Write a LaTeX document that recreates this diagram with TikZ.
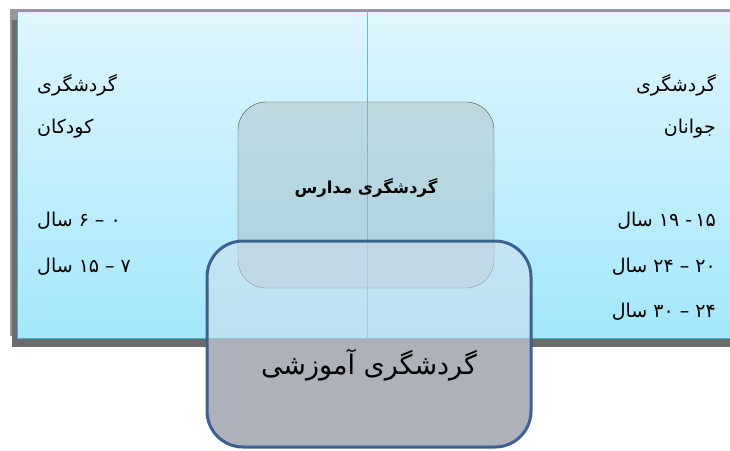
\documentclass[tikz,border=0pt]{standalone}
\usepackage{fontspec}
\newfontfamily\arabicfont[Script=Arabic]{DejaVu Sans}
\TeXXeTstate=1
\usepackage{tikz}
\usetikzlibrary{positioning,shadows}
\usepackage{xcolor}

\definecolor{panelTop}{HTML}{DFF6FD}
\definecolor{panelBottom}{HTML}{A3E7FB}
\definecolor{panelEdge}{HTML}{4AAFCB}
\definecolor{dividerBlue}{HTML}{6DBBD0}
\definecolor{smallFill}{HTML}{AAB4B8}
\definecolor{smallEdge}{HTML}{505050}
\definecolor{bigFill}{HTML}{D5DEEA}
\definecolor{bigGray}{HTML}{ADB1BA}
\definecolor{bigEdge}{HTML}{3C6191}

\newcommand{\fa}[1]{{\arabicfont\beginR #1\endR}}

\begin{document}
\begin{tikzpicture} [
		x=1pt, y=-1pt,
		panel/.style    = { rectangle, draw=panelEdge, line width=1.4pt,
			top color=panelTop, bottom color=panelBottom,
			minimum width=723pt, minimum height=327pt, inner sep=0pt,
			general shadow={fill=black!40, shadow xshift=-8pt, shadow yshift=3pt},
			general shadow={fill=black!58, shadow xshift=-6pt, shadow yshift=-8pt} },
		sidetext/.style = { inner sep=0pt, text height=14pt, text depth=7pt,
			font=\fontsize{19}{22}\selectfont },
		smallbox/.style = { rectangle, rounded corners=28pt, draw=smallEdge, thin,
			fill=smallFill, fill opacity=0.4,
			minimum width=256pt, minimum height=186pt },
		bigbox/.style   = { rectangle, rounded corners=36pt, draw=bigEdge, line width=3pt,
			fill=bigFill, fill opacity=0.5,
			minimum width=324pt, minimum height=206pt },
		boxtext/.style  = { inner sep=0pt, text opacity=1 },
		]
		\clip (0,0) rectangle (730,450);
		% board with the two age groups
		\node [panel, anchor=north west] (panel) at (17,11) {};
		\coordinate (mid) at (367,0);
		\draw [dividerBlue, line width=1pt] (panel.north -| mid) -- (panel.south -| mid);
		
		% left column
		\node [sidetext, anchor=west] (kidsA) at (37,88) {\fa{گردشگری}};
		\node [sidetext, below right=21pt and 0pt of kidsA.south west] (kidsB) {\fa{کودکان}};
		\node [sidetext, below right=71pt and 0pt of kidsB.south west] (kidsC) {\fa{۰ – ۶ سال}};
		\node [sidetext, below right=25pt and 0pt of kidsC.south west] (kidsD) {\fa{۷ – ۱۵ سال}};
		
		% right column
		\node [sidetext, anchor=east] (youthA) at (716,88) {\fa{گردشگری}};
		\node [sidetext, below left=21pt and 0pt of youthA.south east] (youthB) {\fa{جوانان}};
		\node [sidetext, below left=71pt and 0pt of youthB.south east] (youthC) {\fa{۱۵\,- ۱۹ سال}};
		\node [sidetext, below left=25pt and 0pt of youthC.south east] (youthD) {\fa{۲۰ – ۲۴ سال}};
		\node [sidetext, below left=23pt and 0pt of youthD.south east] (youthE) {\fa{۲۴ – ۳۰ سال}};
		
		% the two overlapping boxes
		\node [smallbox] (madares) at (366,195) {};
		\node [boxtext, font=\bfseries\fontsize{16.5}{19}\selectfont]
			(madaresText) at ([yshift=7pt] madares.center) {\fa{گردشگری مدارس}};
		\node [bigbox, path picture={
				\fill [bigGray, fill opacity=1, sharp corners] (panel.south west)
					rectangle (path picture bounding box.south east);}]
			(amoozeshi) at (369,344) {};
		\node [boxtext, font=\fontsize{27}{31}\selectfont]
			(amoozeshiText) at ([yshift=-21pt] amoozeshi.center) {\fa{گردشگری آموزشی}};
\end{tikzpicture}
\end{document}
